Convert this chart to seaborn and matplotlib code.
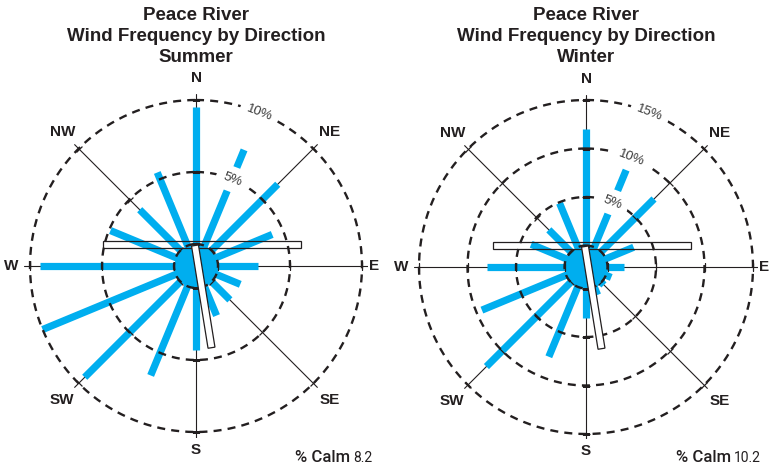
import numpy as np
import matplotlib
matplotlib.use("Agg")
import matplotlib.pyplot as plt
from matplotlib import font_manager
from matplotlib.patches import Polygon
import seaborn as sns

# ---- data -------------------------------------------------------------
directions = ["N", "NNE", "NE", "ENE", "E", "ESE", "SE", "SSE",
              "S", "SSW", "SW", "WSW", "W", "WNW", "NW", "NNW"]
summer_freq = [9.5, 7.2, 6.5, 4.2, 2.8, 1.8, 1.8, 2.2,
               4.3, 6.7, 9.4, 10.0, 9.3, 4.9, 4.0, 5.5]
winter_freq = [12.0, 8.6, 7.7, 3.1, 1.7, 0.6, 0.4, 0.9,
               3.0, 7.8, 12.3, 9.4, 8.0, 3.9, 3.2, 4.9]
summer_rings = [0, 5, 10]
winter_rings = [0, 5, 10, 15]
summer_calm = 8.2
winter_calm = 10.2
compass_labels = ["N", "NE", "E", "SE", "S", "SW", "W", "NW"]
seasons = ["Summer", "Winter"]
station = "Peace River"
subtitle = "Wind Frequency by Direction"

# ---- style ------------------------------------------------------------
sns.set_theme(style="white")
plt.rcParams["font.family"] = ["Liberation Sans", "DejaVu Sans"]
available = {f.name for f in font_manager.fontManager.ttflist}
narrow = "Liberation Sans Narrow" if "Liberation Sans Narrow" in available else "Roboto"

BLUE = "#00AEEF"
INK = "#231F20"
W, H, DPI = 771, 465, 100
R = 172  # radius of each rose frame in pixels
# distance (px) of each compass label from the rose centre
label_radius = [188, 189, 178, 189, 184, 189, 185, 189]

fig = plt.figure(figsize=(W / DPI, H / DPI), dpi=DPI)
fig.patch.set_facecolor("white")


def px_axes(dx, dy):
    """Pixel offset from rose centre (y up) -> axes fraction."""
    return (0.5 + dx / (2 * R), 0.5 + dy / (2 * R))


def draw_rose(center, freqs, rings, px_per_pct, hole_px, season, calm, calm_xy):
    cx, cy = center
    ax = fig.add_axes([(cx - R) / W, (H - cy - R) / H, 2 * R / W, 2 * R / H],
                      projection="polar")
    ax.set_theta_zero_location("N")
    ax.set_theta_direction(-1)
    rmin = -hole_px / px_per_pct
    rmax = rmin + R / px_per_pct
    ax.set_rlim(rmin, rmax)
    ax.set_axis_off()

    theta16 = np.deg2rad(np.arange(16) * 22.5)
    theta8 = np.deg2rad(np.arange(8) * 45.0)
    circle = np.linspace(0, 2 * np.pi, 600)

    # compass spokes
    for th in theta8:
        ax.plot([th, th], [rmin, rmax], color=INK, lw=0.8, zorder=1)

    # frequency bars and the calm disc
    bars = ax.vlines(theta16, rmin, freqs, colors=BLUE, lw=5.2, zorder=2)
    bars.set_capstyle("butt")
    ax.fill_between(circle, rmin, 0, color=BLUE, lw=0, zorder=2)

    # dashed rings with ticks on the spokes
    for v in rings:
        ax.plot(circle, np.full_like(circle, v), color=INK, lw=1.7,
                ls=(0, (3.4, 2.6)), zorder=3)
        for b, th in zip(np.arange(8) * 45.0, theta8):
            ax.plot([th], [v], marker=(2, 0, 90 - b), ms=6, mew=0.9,
                    color=INK, zorder=3)

    # ring labels along the NNE bearing
    lab_th = np.deg2rad(22.5)
    for v in rings[1:]:
        ax.text(lab_th, v, f"{v}%", rotation=-21, rotation_mode="anchor",
                ha="center", va="center", fontsize=9.5, color="#3a3a3a",
                zorder=5,
                bbox=dict(boxstyle="square,pad=0.5", fc="white", ec="none"))

    # compass labels
    for i, lab in enumerate(compass_labels):
        ax.text(theta8[i], rmin + label_radius[i] / px_per_pct, lab,
                ha="center", va="center", fontsize=11, fontweight="bold",
                color=INK)

    # open outline bars
    hx = [px_axes(-93, 18.3), px_axes(105, 18.3),
          px_axes(105, 25.3), px_axes(-93, 25.3)]
    ax.add_patch(Polygon(hx, closed=True, fill=False, ec=INK, lw=0.9,
                         transform=ax.transAxes, clip_on=False, zorder=4))
    top = np.array([-1.0, 20.5])
    bot = np.array([15.5, -81.7])
    u = (bot - top) / np.linalg.norm(bot - top)
    n = np.array([-u[1], u[0]]) * 3.5
    corners = [top + n, bot + n, bot - n, top - n]
    ax.add_patch(Polygon([px_axes(*c) for c in corners], closed=True,
                         fc="white", ec=INK, lw=0.9,
                         transform=ax.transAxes, clip_on=False, zorder=4))

    # titles
    fig.text(cx / W, 1 - 7 / H, f"{station}\n{subtitle}\n{season}",
             ha="center", va="top", fontsize=13.5, fontweight="bold",
             color=INK, linespacing=1.31)

    # calm percentage
    tx, ty = calm_xy
    fig.text(tx / W, 1 - ty / H, "% Calm", ha="right", va="baseline",
             fontsize=12, family=narrow, fontweight="medium", color=INK)
    fig.text((tx + 3) / W, 1 - ty / H, f"{calm}", ha="left", va="baseline",
             fontsize=10, family=narrow, color=INK)
    return ax


draw_rose((196, 266), summer_freq, summer_rings, 14.4, 22.0,
          seasons[0], summer_calm, (350, 462))
draw_rose((586, 267), winter_freq, winter_rings, 9.7, 21.5,
          seasons[1], winter_calm, (731, 462))

fig.savefig("out.png", dpi=DPI, facecolor="white")
